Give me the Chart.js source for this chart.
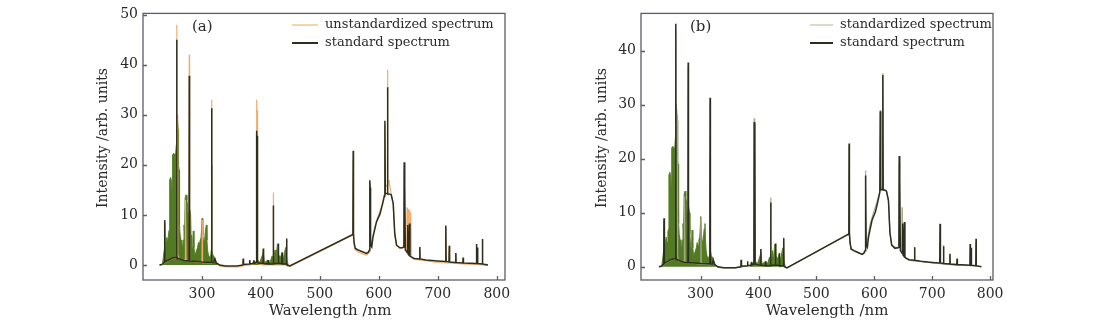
<!DOCTYPE html>
<html><head><meta charset="utf-8">
<script src="https://cdn.jsdelivr.net/npm/chart.js@4.4.0/dist/chart.umd.min.js"></script>
<style>
html,body{margin:0;padding:0;background:#fff;}
#wrap{position:relative;width:1108px;height:330px;overflow:hidden;background:#fff}
canvas{position:absolute;top:0}
#ca{left:0} #cb{left:554px}
</style></head><body>
<div id="wrap"><canvas id="ca" width="554" height="330"></canvas><canvas id="cb" width="554" height="330"></canvas></div>
<script>
// ---- tick labels ----
const xTicks=[300,400,500,600,700,800];
const yTicksA=[0,10,20,30,40,50];
const yTicksB=[0,10,20,30,40];

// ---- standard spectrum (dark) : [wavelength nm, intensity] ----
const standardPts=[[228,0],[232,0.1],[235,0.4],[236.2,0.5],[236.8,9],[237.4,0.6],[240,0.8],[245,1.1],[250,1.4],[255,1.5],[256.6,1.5],[257.1,45],[257.6,1.4],[262,1.2],[270,0.9],[278,0.8],[278.5,37.8],[279,0.8],[290,0.7],[300,0.6],[315.9,0.5],[316.4,31.3],[316.9,0.5],[320,0.5],[322,1.2],[324,0.4],[330,0],[340,-0.2],[360,-0.2],[369.5,0],[370,1.3],[370.5,0.1],[380.5,0.2],[381,1],[381.5,0.2],[387,0.3],[388,0.9],[389,0.3],[392,0.5],[392.5,26.8],[393,0.6],[393.5,25.8],[394.2,0.4],[403.5,0.3],[404,3.3],[404.5,0.3],[412,0.2],[412.5,1],[413,0.2],[420.5,0.2],[421,11.9],[421.5,0.3],[429,0.3],[429.5,4.3],[430,0.3],[435.5,0.3],[436,2.5],[436.5,0.2],[443,0.2],[443.5,5.3],[444,0.1],[449,-0.2],[556,6.1],[556.5,22.8],[557,6.3],[558,4.5],[560,3.3],[565,3],[573,2.6],[579,2.3],[582,2.5],[584.2,3],[584.7,16.9],[585.2,15.5],[586,4],[588,3.6],[590,5.5],[596,8.6],[602,10.2],[606,12],[609.5,13.8],[610.3,28.8],[611,14.2],[614,14.3],[614.7,35.5],[615.3,14.2],[617.5,14.2],[621,14],[624.4,12.3],[627,6.3],[630,4],[635.8,3.4],[640,3.5],[642.5,3.6],[643,20.5],[643.6,4],[644.2,16],[645,3],[648,2.5],[649,8],[649.6,2.2],[651,2],[652,8.3],[652.8,1.8],[655,1.6],[660,1.3],[669,1.2],[669.5,3.6],[670,1.2],[680,1],[700,0.8],[713,0.7],[713.6,7.9],[714.2,0.7],[719,0.6],[719.5,3.8],[720,0.6],[730.2,0.5],[730.6,2.4],[731,0.5],[742.5,0.4],[743,1.5],[743.5,0.4],[765.2,0.3],[765.6,4.2],[766,0.3],[767,0.3],[767.5,3.5],[768,0.3],[775.3,0.2],[775.7,5.2],[776.1,0.2],[785,0]];

// ---- dense multi-line region of the standard spectrum (envelope, drawn filled) ----
const densePts=[[233,0.3],[234.5,1.5],[236,3],[236.8,8.5],[237.5,3.5],[239,4.5],[240.5,5.5],[242,4.5],[243.5,6.5],[244.5,7],[245.2,17],[247,17.5],[248.5,16.5],[249.2,15],[250,22],[252,22.3],[254,22],[255.5,22.5],[256.5,24],[257,29],[258,30],[259,30],[259.8,27],[260.3,20],[261.2,19],[262,8],[263,6],[264.5,5],[266,4],[267.5,3.5],[268.5,5],[269.5,8],[270.5,6.5],[271.5,13.5],[273,14],[274.5,13],[275.5,12],[276.5,9.5],[277.5,10],[279.5,11],[280.8,10],[281.5,6],[282.5,4],[283.5,3.5],[284.5,5],[285.3,6.8],[286.5,3.5],[288,2],[289.5,2.5],[291,3],[292.5,3.5],[294,4.5],[295.5,4],[297,5],[298.5,5.5],[300.3,9.3],[301.5,6],[303,4.5],[304.5,5],[306,7],[307.5,8],[308.5,5],[309.5,3],[311,2],[313,1.5],[315,2],[315.8,3],[316.4,20],[317,3],[318.5,2],[320,1.8],[321,1.5],[323,1],[325,0.5],[328,0.1],[330,null],[385,0.2],[388,0.9],[390,0.5],[395,1],[398,0.5],[404,2.5],[406,0.5],[412,1],[415,0.4],[419,1.8],[422,1.5],[424,3],[425.5,1.2],[428,4.2],[430,2],[433,1.5],[436,2.5],[438,1],[440,2.5],[442,3.5],[444,1],[446,0.2]];

// ---- unstandardized spectrum (panel a) ----
const unstandardizedPts=[[228,0],[235,0.3],[236.3,0.4],[236.8,8.5],[237.5,0.5],[245,1],[250,1.3],[256.6,1.4],[257.1,48],[257.6,2],[258,2],[258.5,30],[259.3,2],[262,1.1],[271.5,1],[272,13],[273,1],[278,0.8],[278.5,42],[279,0.8],[290,0.6],[300,0.5],[300.5,9],[301,0.5],[315.9,0.4],[316.4,33],[316.9,0.4],[322,0.8],[330,-0.2],[340,-0.4],[360,-0.4],[369.5,-0.2],[370,1],[370.5,-0.1],[380.5,0],[381,0.8],[381.5,0],[392,0.3],[392.5,33],[393.2,1],[393.6,1],[394,31],[394.6,0.3],[403.5,0],[404,3],[404.5,0],[420.5,0],[421,14.5],[421.5,0],[429,0],[429.5,4],[430,0],[443,0],[443.5,5],[444,-0.1],[449,-0.3],[556,6],[556.5,21],[557,6],[558,4.2],[560,3],[565,2.6],[573,2.2],[579,2],[584.2,2.6],[584.7,16.5],[585.5,4],[588,4.5],[592,7],[598,9.5],[604,11.5],[609.8,14.3],[610.3,28],[611,15.5],[614,16],[614.7,39],[615.3,16.5],[617.5,16.8],[619,15.5],[621,14.2],[624.4,12],[627,6],[630,3.8],[640,3.3],[642.5,3.5],[643,19],[643.6,4],[647,3],[647.5,3],[648,11.5],[648.5,2.5],[649.5,2.4],[650,11.2],[650.5,2.2],[652,2],[652.5,11],[653,1.8],[654,1.7],[654.5,10.5],[655,1.5],[660,1.1],[669,1],[669.5,3.2],[670,1],[700,0.5],[713,0.45],[713.6,7.5],[714.2,0.4],[719,0.4],[719.5,4],[720,0.4],[730.2,0.3],[730.6,2.2],[731,0.3],[742.5,0.2],[743,1.4],[743.5,0.2],[765.2,0.1],[765.6,4],[766,0.1],[775.3,0],[775.7,5],[776.1,0],[785,-0.1]];

// ---- standardized spectrum (panel b) ----
const standardizedPts=[[228,0],[235,0.3],[236.3,0.4],[236.8,8.8],[237.5,0.5],[245,1],[250,1.3],[256.6,1.4],[257.1,44],[257.6,2],[259.1,2],[259.6,28],[260.2,2],[262,1.1],[271.5,1],[272,13],[273,1],[278,0.8],[278.5,37],[279,0.8],[290,0.6],[300,0.5],[300.5,9],[301,0.5],[315.9,0.4],[316.4,31],[316.9,0.4],[322,0.8],[330,-0.1],[340,-0.2],[360,-0.2],[369.5,0],[370,1.2],[370.5,0],[380.5,0.1],[381,0.9],[381.5,0.1],[392,0.4],[392.5,27.5],[393.2,1],[393.6,1],[394,26.5],[394.6,0.3],[403.5,0.2],[404,3.2],[404.5,0.2],[420.5,0.2],[421,12.8],[421.5,0.2],[429,0.2],[429.5,4.2],[430,0.2],[443,0.2],[443.5,5.4],[444,0],[449,-0.2],[556,6],[556.5,22.5],[557,6.2],[558,4.4],[560,3.2],[565,2.9],[573,2.5],[579,2.3],[584.2,3],[584.7,17.8],[585.5,4],[588,4.8],[592,7.5],[598,9.8],[604,11.8],[609.8,14],[610.3,29],[611,14.5],[614,14.5],[614.7,35.8],[615.3,14.3],[617.5,14.3],[621,14],[624.4,12.2],[627,6.2],[630,4],[640,3.4],[642.5,3.5],[643,19.3],[643.6,4],[647,3],[647.5,3],[648,11],[648.5,2.4],[651.5,1.9],[652,8],[652.6,1.8],[655,1.5],[660,1.2],[669,1.1],[669.5,3.6],[670,1.1],[700,0.7],[713,0.6],[713.6,8],[714.2,0.6],[719,0.5],[719.5,4],[720,0.5],[730.2,0.4],[730.6,2.3],[731,0.4],[742.5,0.3],[743,1.5],[743.5,0.3],[765.2,0.2],[765.6,4],[766,0.2],[775.3,0.1],[775.7,4.3],[776.1,0.1],[785,0]];

const pts=a=>a.map(p=>({x:p[0],y:p[1]}));

const FONT='"DejaVu Serif", "Liberation Serif", serif';
const TXT='#2a2a2a';
const FRAME='#5c5c6c';
const DARK='#2c2f1f';
const GREEN='#527a22';
const X_TITLE='Wavelength /nm';
const Y_TITLE='Intensity /arb. units';

const framePlugin={id:'frame',afterDatasetsDraw(chart){
  const {ctx,chartArea:a,scales:{x,y}}=chart;
  ctx.save();
  ctx.strokeStyle=FRAME;ctx.lineWidth=1.3;
  ctx.strokeRect(a.left,a.top,a.right-a.left,a.bottom-a.top);
  ctx.beginPath();
  x.ticks.forEach(t=>{const p=Math.round(x.getPixelForValue(t.value))+0.5;ctx.moveTo(p,a.bottom);ctx.lineTo(p,a.bottom-4);});
  y.ticks.forEach(t=>{const p=Math.round(y.getPixelForValue(t.value))+0.5;ctx.moveTo(a.left,p);ctx.lineTo(a.left+4,p);});
  ctx.stroke();
  const o=chart.options.plugins.frame;
  ctx.fillStyle=TXT;ctx.textBaseline='middle';
  // axis titles
  ctx.textAlign='center';
  ctx.font='15px '+FONT;
  ctx.fillText(X_TITLE,o.xtX,311);
  ctx.save();ctx.translate(o.ytX,138);ctx.rotate(-Math.PI/2);
  ctx.font='14px '+FONT;ctx.fillText(Y_TITLE,0,0);ctx.restore();
  // panel tag and legend
  ctx.textAlign='left';
  ctx.font='15px '+FONT;
  ctx.fillText(o.tag,o.tagX,27);
  ctx.font='13px '+FONT;
  const items=chart.data.datasets.filter(d=>d.inLegend);
  items.sort((p,q)=>p.legendRow-q.legendRow);
  items.forEach((d,i)=>{
    const yy=25+i*18;
    ctx.strokeStyle=d.legendColor||d.borderColor;ctx.lineWidth=d.legendWidth||1.5;
    ctx.beginPath();ctx.moveTo(o.lx,yy);ctx.lineTo(o.lx+o.lw,yy);ctx.stroke();
    ctx.fillText(d.label,o.tx,yy);
  });
  ctx.restore();
}};

function makeChart(id,cfg){
  return new Chart(document.getElementById(id),{
    type:'line',
    data:{datasets:cfg.datasets},
    options:{
      responsive:false,animation:false,events:[],
      layout:{padding:{left:cfg.padL,right:cfg.padR,top:12,bottom:10}},
      elements:{point:{radius:0},line:{tension:0}},
      plugins:{legend:{display:false},tooltip:{enabled:false},frame:cfg.frame},
      scales:{
        x:{type:'linear',min:cfg.xmin,max:cfg.xmax,
          afterBuildTicks:s=>{s.ticks=xTicks.map(v=>({value:v}));},
          afterFit:s=>{s.height=40;},
          grid:{display:false,drawTicks:false},border:{display:false},
          ticks:{padding:6,color:TXT,font:{family:FONT,size:14},maxRotation:0,autoSkip:false},
          title:{display:false}},
        y:{type:'linear',min:cfg.ymin,max:cfg.ymax,
          afterBuildTicks:s=>{s.ticks=cfg.yTicks.map(v=>({value:v}));},
          afterFit:s=>{s.width=cfg.yW;},
          grid:{display:false,drawTicks:false},border:{display:false},
          ticks:{padding:5,color:TXT,font:{family:FONT,size:14}},
          title:{display:false}}
      }
    },
    plugins:[framePlugin]
  });
}

makeChart('ca',{
  padL:95,padR:49,yW:48,xmin:200,xmax:814,ymin:-3,ymax:50.25,yTicks:yTicksA,
  frame:{tag:'(a)',tagX:192,lx:292,lw:26,tx:325,xtX:330,ytX:103},
  datasets:[
    {label:'standard spectrum',data:pts(standardPts),borderColor:DARK,borderWidth:1.5,order:0,inLegend:true,legendRow:1,legendWidth:2},
    {label:'unstandardized spectrum',data:pts(unstandardizedPts),borderColor:'#efab6c',borderWidth:1.2,order:1,inLegend:true,legendRow:0,legendColor:'#f3c594',legendWidth:1.5},
    {label:'dense',data:pts(densePts),borderColor:GREEN,backgroundColor:GREEN,borderWidth:0.9,fill:'origin',spanGaps:false,order:2}
  ]
});
makeChart('cb',{
  padL:40,padR:115,yW:47,xmin:197,xmax:805,ymin:-2.45,ymax:46.9,yTicks:yTicksB,
  frame:{tag:'(b)',tagX:136,lx:256,lw:23,tx:286,xtX:273,ytX:48},
  datasets:[
    {label:'standard spectrum',data:pts(standardPts),borderColor:DARK,borderWidth:1.5,order:0,inLegend:true,legendRow:1,legendWidth:2},
    {label:'standardized spectrum',data:pts(standardizedPts),borderColor:'#a8a888',borderWidth:1.2,order:1,inLegend:true,legendRow:0,legendColor:'#cfcdb6',legendWidth:1.5},
    {label:'dense',data:pts(densePts),borderColor:GREEN,backgroundColor:GREEN,borderWidth:0.9,fill:'origin',spanGaps:false,order:2}
  ]
});
</script>
</body></html>
